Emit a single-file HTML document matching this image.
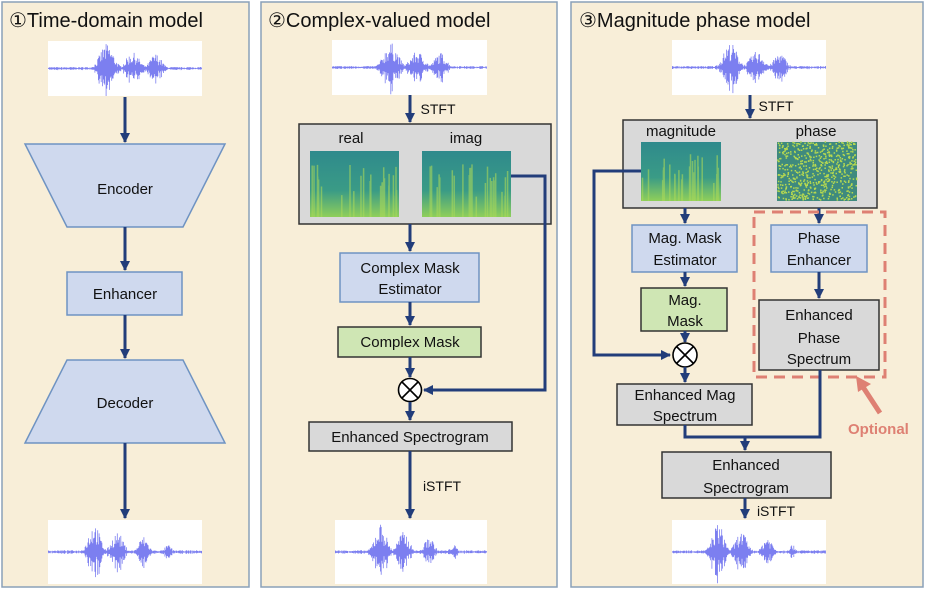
<!DOCTYPE html>
<html><head><meta charset="utf-8">
<style>
html,body{margin:0;padding:0;background:#fff;overflow:hidden;}
svg{display:block;font-family:"Liberation Sans","DejaVu Sans",sans-serif;}
.t{font-size:15px;fill:#111;text-anchor:middle;}
.h{font-size:20px;fill:#111;}
.a{stroke:#223d7a;stroke-width:3;fill:none;}
.bb{fill:#cfd9ee;stroke:#6f93c2;stroke-width:1.5;}
.gb{fill:#d9d9d9;stroke:#333;stroke-width:1.5;}
.gr{fill:#cfe6b4;stroke:#333;stroke-width:1.5;}
</style></head><body>
<svg id="s" width="926" height="589" viewBox="0 0 926 589" xmlns="http://www.w3.org/2000/svg">
<defs>
<marker id="m" viewBox="0 0 10 10" refX="9" refY="5" markerWidth="3.4" markerHeight="3.4" orient="auto"><path d="M0,0 L10,5 L0,10 z" fill="#223d7a"/></marker>
<linearGradient id="sp" x1="0" y1="0" x2="0" y2="1"><stop offset="0" stop-color="#2f8a8c"/><stop offset="0.6" stop-color="#3a9b86"/><stop offset="1" stop-color="#8fcf5a"/></linearGradient>
</defs>
<rect width="926" height="589" fill="#fff"/>
<rect x="2" y="2" width="247" height="585" fill="#f8eed8" stroke="#8aa0b8" stroke-width="1.5"/>
<rect x="261" y="2" width="296" height="585" fill="#f8eed8" stroke="#8aa0b8" stroke-width="1.5"/>
<rect x="571" y="2" width="352" height="585" fill="#f8eed8" stroke="#8aa0b8" stroke-width="1.5"/>
<text class="h" x="9" y="27">①Time-domain model</text>
<text class="h" x="268" y="27">②Complex-valued model</text>
<text class="h" x="579" y="27">③Magnitude phase model</text>

<g id="waves"></g>

<!-- panel 1 -->
<line class="a" x1="125" y1="97" x2="125" y2="142" marker-end="url(#m)"/>
<polygon class="bb" points="25,144 225,144 183,227 67,227"/>
<text class="t" x="125" y="194">Encoder</text>
<line class="a" x1="125" y1="227" x2="125" y2="270" marker-end="url(#m)"/>
<rect class="bb" x="67" y="272" width="115" height="43"/>
<text class="t" x="125" y="299">Enhancer</text>
<line class="a" x1="125" y1="315" x2="125" y2="358" marker-end="url(#m)"/>
<polygon class="bb" points="67,360 183,360 225,443 25,443"/>
<text class="t" x="125" y="408">Decoder</text>
<line class="a" x1="125" y1="443" x2="125" y2="518" marker-end="url(#m)"/>

<!-- panel 2 -->
<line class="a" x1="410" y1="95" x2="410" y2="122" marker-end="url(#m)"/>
<text class="t" x="438" y="114" style="font-size:14px">STFT</text>
<rect class="gb" x="299" y="124" width="252" height="100"/>
<text class="t" x="351" y="143">real</text>
<text class="t" x="466" y="143">imag</text>
<rect x="310" y="151" width="89" height="66" fill="url(#sp)"/>
<rect x="422" y="151" width="89" height="66" fill="url(#sp)"/>
<g id="spec2"></g>
<polyline class="a" points="511,176 545,176 545,390 424,390" marker-end="url(#m)"/>
<line class="a" x1="410" y1="224" x2="410" y2="251" marker-end="url(#m)"/>
<rect class="bb" x="340" y="253" width="139" height="49"/>
<text class="t" x="410" y="273">Complex Mask</text>
<text class="t" x="410" y="294">Estimator</text>
<line class="a" x1="410" y1="302" x2="410" y2="325" marker-end="url(#m)"/>
<rect class="gr" x="338" y="327" width="143" height="30"/>
<text class="t" x="410" y="347">Complex Mask</text>
<line class="a" x1="410" y1="357" x2="410" y2="377" marker-end="url(#m)"/>
<circle cx="410" cy="390" r="11.5" fill="#fff" stroke="#000" stroke-width="1.6"/>
<path d="M402,382 L418,398 M418,382 L402,398" stroke="#000" stroke-width="1.6"/>
<line class="a" x1="410" y1="402" x2="410" y2="420" marker-end="url(#m)"/>
<rect class="gb" x="309" y="422" width="203" height="29"/>
<text class="t" x="410" y="442">Enhanced Spectrogram</text>
<line class="a" x1="410" y1="451" x2="410" y2="518" marker-end="url(#m)"/>
<text class="t" x="442" y="491" style="font-size:14px">iSTFT</text>

<!-- panel 3 -->
<line class="a" x1="750" y1="95" x2="750" y2="118" marker-end="url(#m)"/>
<text class="t" x="776" y="111" style="font-size:14px">STFT</text>
<rect class="gb" x="623" y="120" width="254" height="88"/>
<text class="t" x="681" y="136">magnitude</text>
<text class="t" x="816" y="136">phase</text>
<rect x="641" y="142" width="80" height="59" fill="url(#sp)"/>
<rect x="777" y="142" width="80" height="59" fill="#3f8a7e"/>
<g id="spec3"></g>
<polyline class="a" points="641,171 594,171 594,355 670,355" marker-end="url(#m)"/>
<line class="a" x1="685" y1="208" x2="685" y2="223" marker-end="url(#m)"/>
<rect class="bb" x="632" y="225" width="105" height="47"/>
<text class="t" x="685" y="243">Mag. Mask</text>
<text class="t" x="685" y="265">Estimator</text>
<line class="a" x1="685" y1="272" x2="685" y2="286" marker-end="url(#m)"/>
<rect class="gr" x="641" y="288" width="86" height="43"/>
<text class="t" x="685" y="305">Mag.</text>
<text class="t" x="685" y="326">Mask</text>
<line class="a" x1="685" y1="331" x2="685" y2="342" marker-end="url(#m)"/>
<circle cx="685" cy="355" r="12" fill="#fff" stroke="#000" stroke-width="1.6"/>
<path d="M676.5,346.5 L693.5,363.5 M693.5,346.5 L676.5,363.5" stroke="#000" stroke-width="1.6"/>
<line class="a" x1="685" y1="367" x2="685" y2="382" marker-end="url(#m)"/>
<rect class="gb" x="617" y="384" width="135" height="41"/>
<text class="t" x="685" y="400">Enhanced Mag</text>
<text class="t" x="685" y="421">Spectrum</text>

<line class="a" x1="819" y1="208" x2="819" y2="223" marker-end="url(#m)"/>
<rect class="bb" x="771" y="225" width="96" height="47"/>
<text class="t" x="819" y="243">Phase</text>
<text class="t" x="819" y="265">Enhancer</text>
<line class="a" x1="819" y1="272" x2="819" y2="298" marker-end="url(#m)"/>
<rect class="gb" x="759" y="300" width="120" height="70"/>
<text class="t" x="819" y="320">Enhanced</text>
<text class="t" x="819" y="343">Phase</text>
<text class="t" x="819" y="364">Spectrum</text>
<rect x="754" y="212" width="131" height="165" fill="none" stroke="#de8073" stroke-width="3" stroke-dasharray="11,7"/>
<polyline class="a" points="685,425 685,437 820,437 820,370"/>
<line class="a" x1="745" y1="437" x2="745" y2="450" marker-end="url(#m)"/>
<rect class="gb" x="662" y="452" width="169" height="46"/>
<text class="t" x="746" y="470">Enhanced</text>
<text class="t" x="746" y="493">Spectrogram</text>
<line class="a" x1="745" y1="498" x2="745" y2="518" marker-end="url(#m)"/>
<text class="t" x="776" y="516" style="font-size:14px">iSTFT</text>
<path d="M880,413 L863,387" stroke="#de8073" stroke-width="5"/>
<path d="M856,376 L871,384 L858,392 z" fill="#de8073"/>
<text x="848" y="434" style="font-size:15px;font-weight:bold;fill:#de8073">Optional</text>
</svg>
<script>
(function(){
var NS="http://www.w3.org/2000/svg";
var seed=7;function r(){seed=(seed*16807)%2147483647;return seed/2147483647;}
var g=document.getElementById("waves");
var cid=0;
function wave(x,y,w,h,env){
 var rc=document.createElementNS(NS,"rect");
 rc.setAttribute("x",x);rc.setAttribute("y",y);rc.setAttribute("width",w);rc.setAttribute("height",h);rc.setAttribute("fill","#fff");g.appendChild(rc);
 var cp=document.createElementNS(NS,"clipPath");cp.setAttribute("id","c"+cid);
 var cr=rc.cloneNode();cp.appendChild(cr);g.appendChild(cp);
 var cy=y+h*0.5,d="";
 for(var i=0;i<w;i+=0.7){var t=i/w,a=0.06;for(var k=0;k<env.length;k++){var e=env[k];var v=e[2]*Math.exp(-Math.pow((t-e[0])/e[1],2));a=Math.max(a,v);}
  var amp=(a*(0.25+0.75*r()))*h*0.45;d+="M"+(x+i).toFixed(1)+","+(cy-amp).toFixed(1)+"V"+(cy+amp*(0.6+0.6*r())).toFixed(1);}
 var p=document.createElementNS(NS,"path");p.setAttribute("d",d);p.setAttribute("stroke","#7c7ff0");p.setAttribute("stroke-width","0.8");p.setAttribute("clip-path","url(#c"+cid+")");g.appendChild(p);
 cid++;
}
var e1=[[0.38,0.06,1.0],[0.55,0.06,0.65],[0.7,0.05,0.6]];
var e2=[[0.3,0.05,1.0],[0.45,0.05,0.7],[0.62,0.04,0.55],[0.78,0.03,0.25]];
[[48,41,154,55],[332,40,155,55],[672,40,154,55]].forEach(function(b){wave(b[0],b[1],b[2],b[3],e1);});
[[48,520,154,64],[335,520,152,64],[672,520,154,64]].forEach(function(b){wave(b[0],b[1],b[2],b[3],e2);});
function spec(id,x,y,w,h){var gg=document.getElementById(id);var d="";
 for(var i=0;i<25;i++){var xx=x+r()*w;d+="M"+xx.toFixed(1)+","+(y+h*(0.2+0.5*r())).toFixed(1)+"V"+(y+h).toFixed(1);}
 var p=document.createElementNS(NS,"path");p.setAttribute("d",d);p.setAttribute("stroke","#a9d85a");p.setAttribute("stroke-width","1.5");p.setAttribute("opacity","0.6");gg.appendChild(p);}
spec("spec2",310,151,89,66);spec("spec2",422,151,89,66);spec("spec3",641,142,80,59);
var gg=document.getElementById("spec3"),d="";
for(var i=0;i<600;i++){d+="M"+(777+r()*79).toFixed(1)+","+(142+r()*58).toFixed(1)+"h1.5";}
var p=document.createElementNS(NS,"path");p.setAttribute("d",d);p.setAttribute("stroke","#b7d94f");p.setAttribute("stroke-width","1.5");gg.appendChild(p);
})();
</script>
</body></html>
